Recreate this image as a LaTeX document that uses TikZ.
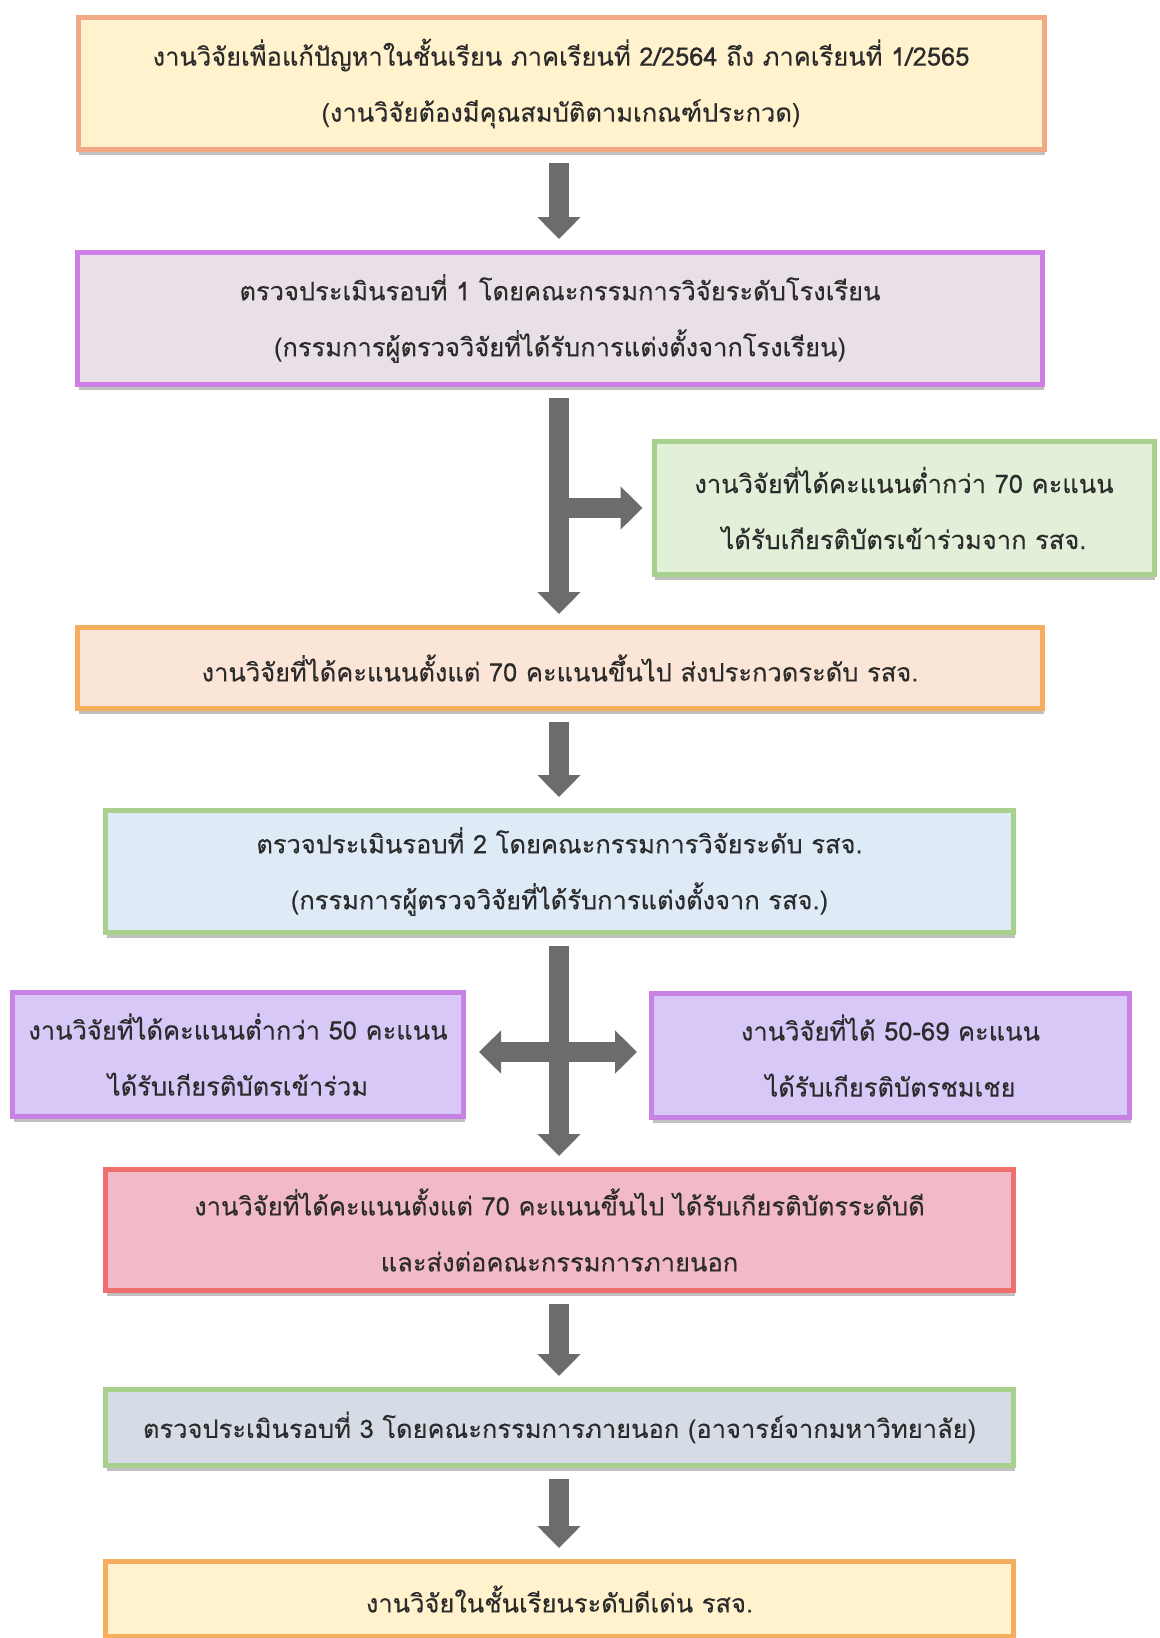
\documentclass[tikz,border=0pt]{standalone}
\usepackage{fontspec}
\newfontfamily\thai[Script=Thai,FakeBold=0.2]{Loma}
\usetikzlibrary{arrows.meta,shadows}
\definecolor{txt}{HTML}{2B2B2B}
\definecolor{arrgray}{HTML}{6C6C6C}
\definecolor{yelF}{HTML}{FFF2CC}
\definecolor{salD}{HTML}{F2AA86}
\definecolor{pinkgF}{HTML}{E9DFE6}
\definecolor{violD}{HTML}{CC80E6}
\definecolor{grnF}{HTML}{E2F0D9}
\definecolor{grnD}{HTML}{A9D18E}
\definecolor{peachF}{HTML}{FBE5D6}
\definecolor{orgD}{HTML}{F4AE5E}
\definecolor{bluF}{HTML}{DEEBF7}
\definecolor{lavF}{HTML}{D7C8F7}
\definecolor{lavD}{HTML}{C882E4}
\definecolor{redF}{HTML}{F2B9C6}
\definecolor{redD}{HTML}{F06E6E}
\definecolor{slateF}{HTML}{D6DCE5}
\tikzset{
  box/.style={draw, line width=5pt, inner sep=0pt, align=center, text=txt,
    font=\thai\fontsize{25.5}{56}\selectfont,
    drop shadow={shadow xshift=1pt, shadow yshift=-5pt, opacity=0.35, fill=black!70}},
  arr/.style={draw=arrgray, line width=20pt, -{Triangle[width=42pt,length=22pt]},
    shorten <=11pt, shorten >=11pt},
  darr/.style={draw=arrgray, line width=20pt, {Triangle[width=42pt,length=22pt]}-{Triangle[width=42pt,length=22pt]},
    shorten <=13pt, shorten >=12pt}
}
\begin{document}
\begin{tikzpicture}[x=1pt,y=-1pt]
\useasboundingbox (0,0) rectangle (1159,1638);
\clip (0,0) rectangle (1159,1638);
\fill[white] (0,0) rectangle (1159,1638);
\node[box, fill=yelF, draw=salD, minimum width=966pt, minimum height=132pt] (b1) at (561,83.5)
  {งานวิจัยเพื่อแก้ปัญหาในชั้นเรียน ภาคเรียนที่ 2/2564 ถึง ภาคเรียนที่ 1/2565\\(งานวิจัยต้องมีคุณสมบัติตามเกณฑ์ประกวด)};
\node[box, fill=pinkgF, draw=violD, minimum width=965pt, minimum height=132pt] (b2) at (560,318.5)
  {ตรวจประเมินรอบที่ 1 โดยคณะกรรมการวิจัยระดับโรงเรียน\\(กรรมการผู้ตรวจวิจัยที่ได้รับการแต่งตั้งจากโรงเรียน)};
\node[box, fill=grnF, draw=grnD, minimum width=500pt, minimum height=133pt] (g) at (904,508)
  {งานวิจัยที่ได้คะแนนต่ำกว่า 70 คะแนน\\ได้รับเกียรติบัตรเข้าร่วมจาก รสจ.};
\node[box, fill=peachF, draw=orgD, minimum width=965pt, minimum height=81pt] (b4) at (560,668)
  {งานวิจัยที่ได้คะแนนตั้งแต่ 70 คะแนนขึ้นไป ส่งประกวดระดับ รสจ.};
\node[box, fill=bluF, draw=grnD, minimum width=908pt, minimum height=122pt] (b5) at (559.5,871.5)
  {ตรวจประเมินรอบที่ 2 โดยคณะกรรมการวิจัยระดับ รสจ.\\(กรรมการผู้ตรวจวิจัยที่ได้รับการแต่งตั้งจาก รสจ.)};
\node[box, fill=lavF, draw=lavD, minimum width=451pt, minimum height=124pt] (lp) at (238,1054.5)
  {งานวิจัยที่ได้คะแนนต่ำกว่า 50 คะแนน\\ได้รับเกียรติบัตรเข้าร่วม};
\node[box, fill=lavF, draw=lavD, minimum width=478pt, minimum height=124pt] (rp) at (890.5,1055.5)
  {งานวิจัยที่ได้ 50-69 คะแนน\\ได้รับเกียรติบัตรชมเชย};
\node[box, fill=redF, draw=redD, minimum width=908pt, minimum height=121pt] (r) at (559.5,1230)
  {งานวิจัยที่ได้คะแนนตั้งแต่ 70 คะแนนขึ้นไป ได้รับเกียรติบัตรระดับดี\\และส่งต่อคณะกรรมการภายนอก};
\node[box, fill=slateF, draw=grnD, minimum width=908pt, minimum height=76pt] (b9) at (559.5,1427.5)
  {ตรวจประเมินรอบที่ 3 โดยคณะกรรมการภายนอก (อาจารย์จากมหาวิทยาลัย)};
\node[box, fill=yelF, draw=orgD, minimum width=908pt, minimum height=75pt] (b10) at (559.5,1599)
  {งานวิจัยในชั้นเรียนระดับดีเด่น รสจ.};
\coordinate (ax) at (559,0);
\draw[arr] (b1.south -| ax) -- (b2.north -| ax);
\draw[arr] (b2.south -| ax) -- (b4.north -| ax);
\draw[arr, shorten <=0pt, shorten >=9pt] (g.west -| ax) -- (g.west);
\draw[arr] (b4.south -| ax) -- (b5.north -| ax);
\draw[darr] (lp.east |- 0,1052) -- (rp.west |- 0,1052);
\draw[arr] (b5.south -| ax) -- (r.north -| ax);
\draw[arr] (r.south -| ax) -- (b9.north -| ax);
\draw[arr] (b9.south -| ax) -- (b10.north -| ax);
\end{tikzpicture}
\end{document}
